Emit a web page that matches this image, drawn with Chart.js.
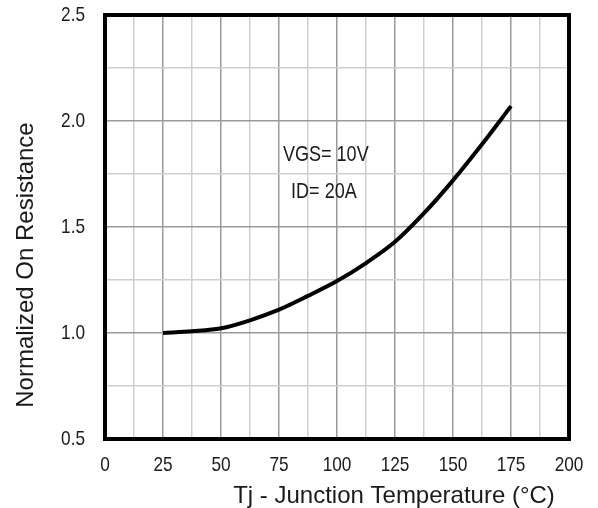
<!DOCTYPE html>
<html>
<head>
<meta charset="utf-8">
<script src="https://cdn.jsdelivr.net/npm/chart.js@4"></script>
<style>
  html, body { margin: 0; padding: 0; background: #fff; }
  #wrap { width: 598px; height: 508px; }
</style>
</head>
<body>
<div id="wrap"><canvas id="chart"></canvas></div>
<script>
// 데이터
const tempC = [25, 37.5, 50, 62.5, 75, 87.5, 100, 112.5, 125, 137.5, 150, 162.5, 175];
const normRon = [1.0, 1.008, 1.022, 1.06, 1.11, 1.175, 1.245, 1.33, 1.43, 1.565, 1.72, 1.89, 2.07];
const xTicks = [0, 25, 50, 75, 100, 125, 150, 175, 200];
const yTicks = [0.5, 1.0, 1.5, 2.0, 2.5];
const notes = ['VGS= 10V', 'ID= 20A'];

const sans = '"Liberation Sans", Arial, sans-serif';

// 좁은 글씨 (가로 압축)
function narrowText(ctx, text, x, y, align) {
    ctx.save();
    ctx.translate(x, y);
    ctx.scale(0.82, 1);
    ctx.textAlign = align;
    ctx.fillText(text, 0, 0);
    ctx.restore();
}

// 테두리 + 눈금 글자 + 축 제목 + 주석
const framePlugin = {
    id: 'frame',
    afterDraw(chart) {
        const ctx = chart.ctx;
        const a = chart.chartArea;
        const xs = chart.scales.x, ys = chart.scales.y;
        ctx.save();
        ctx.strokeStyle = '#000';
        ctx.lineWidth = 4;
        ctx.strokeRect(a.left, a.top, a.right - a.left, a.bottom - a.top);

        ctx.fillStyle = '#1a1a1a';
        ctx.textBaseline = 'middle';
        ctx.font = '21px ' + sans;
        xTicks.forEach(v => narrowText(ctx, String(v), xs.getPixelForValue(v), a.bottom + 26, 'center'));
        yTicks.forEach(v => narrowText(ctx, v.toFixed(1), a.left - 20, ys.getPixelForValue(v), 'right'));

        ctx.font = '22px ' + sans;
        narrowText(ctx, notes[0], xs.getPixelForValue(76.7), ys.getPixelForValue(1.842), 'left');
        narrowText(ctx, notes[1], xs.getPixelForValue(80.2), ys.getPixelForValue(1.667), 'left');

        ctx.font = '24px ' + sans;
        ctx.textAlign = 'center';
        ctx.fillText('Tj - Junction Temperature (°C)', 394, 496);

        ctx.translate(26, 265);
        ctx.rotate(-Math.PI / 2);
        ctx.fillText('Normalized On Resistance', 0, 0);
        ctx.restore();
    }
};

function gridColor(c, step) {
    const v = c.tick ? c.tick.value : 0;
    return Math.abs(v / step - Math.round(v / step)) < 1e-6 ? '#9a9a9a' : '#cfcfcf';
}

new Chart(document.getElementById('chart'), {
    type: 'line',
    data: {
        datasets: [{
            data: tempC.map((t, i) => ({x: t, y: normRon[i]})),
            borderColor: '#000',
            borderWidth: 4,
            pointRadius: 0,
            cubicInterpolationMode: 'monotone',
            fill: false
        }]
    },
    options: {
        responsive: true,
        maintainAspectRatio: false,
        animation: false,
        layout: { padding: { left: 0, top: 15, right: 29, bottom: 0 } },
        plugins: { legend: { display: false }, tooltip: { enabled: false } },
        scales: {
            x: {
                type: 'linear',
                min: 0, max: 200,
                afterFit(s) { s.height = 69; },
                border: { display: false },
                grid: { color: c => gridColor(c, 25), lineWidth: 1.5, drawTicks: false },
                ticks: { stepSize: 12.5, autoSkip: false, maxRotation: 0, display: false }
            },
            y: {
                min: 0.5, max: 2.5,
                afterFit(s) { s.width = 105; },
                border: { display: false },
                grid: { color: c => gridColor(c, 0.5), lineWidth: 1.5, drawTicks: false },
                ticks: { stepSize: 0.25, autoSkip: false, display: false }
            }
        }
    },
    plugins: [framePlugin]
});
</script>
</body>
</html>
